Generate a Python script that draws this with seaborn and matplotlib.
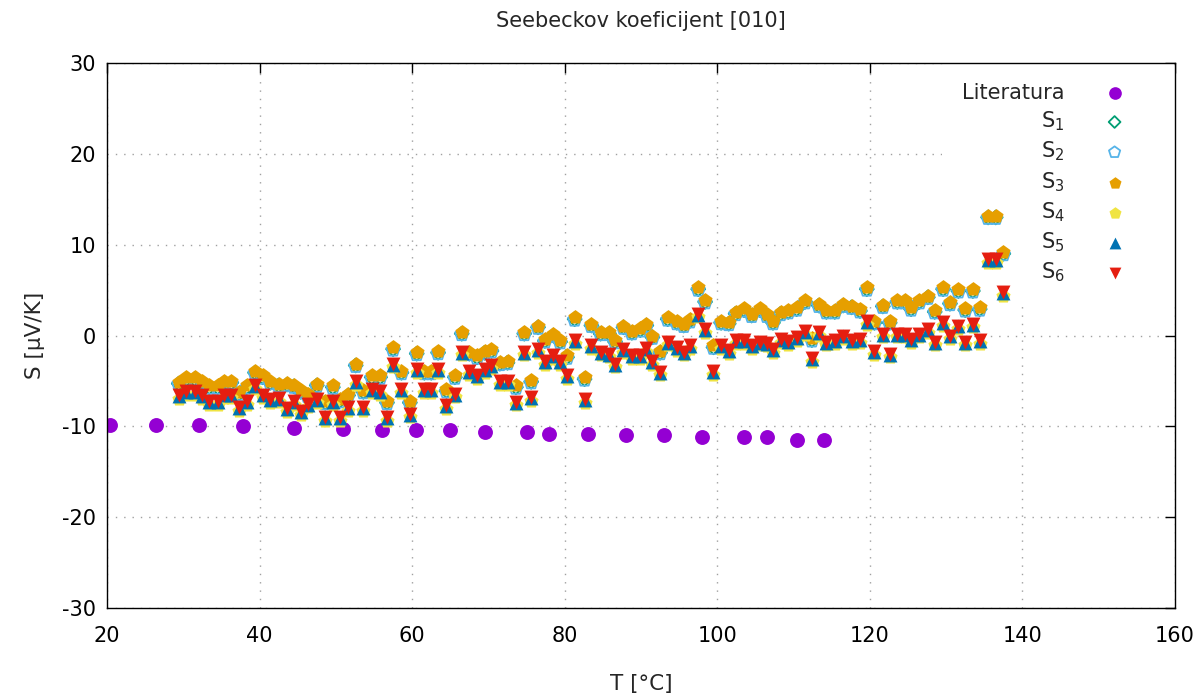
import matplotlib
matplotlib.use("Agg")
import matplotlib.pyplot as plt
import seaborn as sns

# ---------------- data ----------------
T_lit = [20.4, 26.4, 32.0, 37.8, 44.5, 51.0, 56.0, 60.5, 65.0, 69.5,
         75.0, 78.0, 83.0, 88.0, 93.0, 98.0, 103.5, 106.5, 110.5, 114.0]
S_lit = [-9.8, -9.8, -9.8, -10.0, -10.2, -10.3, -10.4, -10.4, -10.4, -10.6,
         -10.6, -10.8, -10.8, -11.0, -11.0, -11.2, -11.2, -11.2, -11.5, -11.5]

T = [29.4, 30.4, 31.5, 32.5, 33.4, 34.5, 35.4, 36.3, 37.3, 38.3,
     39.4, 40.4, 41.4, 42.5, 43.6, 44.5, 45.4, 46.3, 47.5, 48.6,
     49.6, 50.5, 51.6, 52.6, 53.6, 54.7, 55.8, 56.7, 57.5, 58.6,
     59.7, 60.6, 61.6, 62.5, 63.4, 64.5, 65.6, 66.5, 67.5, 68.5,
     69.5, 70.4, 71.5, 72.5, 73.6, 74.7, 75.6, 76.5, 77.4, 78.5,
     79.4, 80.3, 81.3, 82.6, 83.5, 84.7, 85.8, 86.6, 87.7, 88.8,
     89.9, 90.7, 91.5, 92.5, 93.5, 94.7, 95.6, 96.4, 97.5, 98.4,
     99.5, 100.5, 101.5, 102.4, 103.5, 104.5, 105.6, 106.5, 107.3, 108.3,
     109.3, 110.4, 111.5, 112.4, 113.3, 114.3, 115.4, 116.5, 117.6, 118.7,
     119.6, 120.6, 121.7, 122.6, 123.6, 124.6, 125.4, 126.5, 127.6, 128.5,
     129.6, 130.5, 131.6, 132.5, 133.5, 134.4, 135.5, 136.5, 137.5]

S1 = [-5.3, -4.8, -4.8, -5.2, -5.7, -5.7, -5.2, -5.2, -6.4, -5.7,
      -4.1, -4.6, -5.2, -5.5, -5.4, -5.6, -6.2, -6.6, -5.5, -7.4,
      -5.7, -7.2, -6.6, -3.3, -6.2, -4.6, -4.6, -7.4, -1.5, -4.1,
      -7.4, -2.0, -4.1, -4.1, -1.9, -6.1, -4.6, 0.2, -2.0, -2.4,
      -1.9, -1.7, -3.1, -3.0, -5.7, 0.2, -5.1, 0.9, -0.6, 0.0,
      -0.7, -2.4, 1.8, -4.8, 1.1, 0.2, 0.2, -0.7, 0.9, 0.3,
      0.6, 1.1, -0.2, -1.9, 1.8, 1.4, 1.1, 1.6, 5.1, 3.7,
      -1.3, 1.4, 1.3, 2.4, 2.8, 2.2, 2.8, 2.2, 1.4, 2.4,
      2.6, 2.9, 3.7, -0.5, 3.3, 2.6, 2.6, 3.3, 3.1, 2.7,
      5.1, 1.4, 3.2, 1.4, 3.7, 3.7, 2.9, 3.7, 4.2, 2.6,
      5.1, 3.5, 4.9, 2.8, 4.9, 2.9, 13.0, 13.0, 9.0]

S2 = [-5.4, -4.9, -4.9, -5.3, -5.8, -5.8, -5.3, -5.3, -6.5, -5.8,
      -4.2, -4.7, -5.3, -5.6, -5.5, -5.7, -6.3, -6.7, -5.6, -7.5,
      -5.8, -7.3, -6.7, -3.4, -6.3, -4.7, -4.7, -7.5, -1.6, -4.2,
      -7.5, -2.1, -4.2, -4.2, -2.0, -6.2, -4.7, 0.1, -2.1, -2.5,
      -2.0, -1.8, -3.2, -3.1, -5.8, 0.1, -5.2, 0.8, -0.7, -0.1,
      -0.8, -2.5, 1.7, -4.9, 1.0, 0.1, 0.1, -0.8, 0.8, 0.2,
      0.5, 1.0, -0.3, -2.0, 1.7, 1.3, 1.0, 1.5, 5.0, 3.6,
      -1.4, 1.3, 1.2, 2.3, 2.7, 2.1, 2.7, 2.1, 1.3, 2.3,
      2.5, 2.8, 3.6, -0.6, 3.2, 2.5, 2.5, 3.2, 3.0, 2.6,
      5.0, 1.3, 3.1, 1.3, 3.6, 3.6, 2.8, 3.6, 4.1, 2.5,
      5.0, 3.4, 4.8, 2.7, 4.8, 2.8, 12.9, 12.9, 8.9]

S3 = [-5.1, -4.6, -4.6, -5.0, -5.5, -5.5, -5.0, -5.0, -6.2, -5.5,
      -3.9, -4.4, -5.0, -5.3, -5.2, -5.4, -6.0, -6.4, -5.3, -7.2,
      -5.5, -7.0, -6.4, -3.1, -6.0, -4.4, -4.4, -7.2, -1.3, -3.9,
      -7.2, -1.8, -3.9, -3.9, -1.7, -5.9, -4.4, 0.4, -1.8, -2.2,
      -1.7, -1.5, -2.9, -2.8, -5.5, 0.4, -4.9, 1.1, -0.4, 0.2,
      -0.5, -2.2, 2.0, -4.6, 1.3, 0.4, 0.4, -0.5, 1.1, 0.5,
      0.8, 1.3, 0.0, -1.7, 2.0, 1.6, 1.3, 1.8, 5.3, 3.9,
      -1.1, 1.6, 1.5, 2.6, 3.0, 2.4, 3.0, 2.4, 1.6, 2.6,
      2.8, 3.1, 3.9, -0.3, 3.5, 2.8, 2.8, 3.5, 3.3, 2.9,
      5.3, 1.6, 3.4, 1.6, 3.9, 3.9, 3.1, 3.9, 4.4, 2.8,
      5.3, 3.7, 5.1, 3.0, 5.1, 3.1, 13.2, 13.2, 9.2]

S4 = [-7.0, -6.5, -6.5, -7.0, -7.6, -7.6, -6.9, -6.9, -8.3, -7.6,
      -5.9, -6.9, -7.4, -7.3, -8.4, -7.6, -8.7, -7.9, -7.4, -9.4,
      -7.6, -9.4, -8.3, -5.4, -8.3, -6.3, -6.5, -9.4, -3.5, -6.3,
      -9.0, -4.1, -6.3, -6.3, -4.1, -8.1, -6.8, -2.2, -4.3, -4.8,
      -4.1, -3.7, -5.4, -5.4, -7.7, -2.2, -7.2, -1.9, -3.2, -2.6,
      -3.2, -4.8, -0.9, -7.4, -1.5, -2.2, -2.4, -3.5, -1.9, -2.6,
      -2.6, -1.8, -3.2, -4.4, -1.1, -1.7, -2.2, -1.5, 2.0, 0.3,
      -4.3, -1.5, -2.0, -0.9, -0.9, -1.5, -1.1, -1.2, -1.9, -0.8,
      -1.0, -0.6, 0.1, -2.9, 0.0, -1.1, -0.9, -0.4, -0.9, -0.8,
      1.2, -2.1, -0.2, -2.4, -0.2, -0.2, -0.8, -0.2, 0.3, -1.1,
      1.1, -0.4, 0.7, -1.1, 0.9, -0.9, 8.0, 8.0, 4.4]

S5 = [-6.7, -6.2, -6.2, -6.7, -7.3, -7.3, -6.6, -6.6, -8.0, -7.3,
      -5.6, -6.6, -7.1, -7.0, -8.1, -7.3, -8.4, -7.6, -7.1, -9.1,
      -7.3, -9.1, -8.0, -5.1, -8.0, -6.0, -6.2, -9.1, -3.2, -6.0,
      -8.7, -3.8, -6.0, -6.0, -3.8, -7.8, -6.5, -1.9, -4.0, -4.5,
      -3.8, -3.4, -5.1, -5.1, -7.4, -1.9, -6.9, -1.6, -2.9, -2.3,
      -2.9, -4.5, -0.6, -7.1, -1.2, -1.9, -2.1, -3.2, -1.6, -2.3,
      -2.3, -1.5, -2.9, -4.1, -0.8, -1.4, -1.9, -1.2, 2.3, 0.6,
      -4.0, -1.2, -1.7, -0.6, -0.6, -1.2, -0.8, -0.9, -1.6, -0.5,
      -0.7, -0.3, 0.4, -2.6, 0.3, -0.8, -0.6, -0.1, -0.6, -0.5,
      1.5, -1.8, 0.1, -2.1, 0.1, 0.1, -0.5, 0.1, 0.6, -0.8,
      1.4, -0.1, 1.0, -0.8, 1.2, -0.6, 8.3, 8.3, 4.7]

S6 = [-6.6, -6.1, -6.1, -6.6, -7.2, -7.2, -6.5, -6.5, -7.9, -7.2,
      -5.5, -6.5, -7.0, -6.9, -8.0, -7.2, -8.3, -7.5, -7.0, -9.0,
      -7.2, -9.0, -7.9, -5.0, -7.9, -5.9, -6.1, -9.0, -3.1, -5.9,
      -8.6, -3.7, -5.9, -5.9, -3.7, -7.7, -6.4, -1.8, -3.9, -4.4,
      -3.7, -3.3, -5.0, -5.0, -7.3, -1.8, -6.8, -1.5, -2.8, -2.2,
      -2.8, -4.4, -0.5, -7.0, -1.1, -1.8, -2.0, -3.1, -1.5, -2.2,
      -2.2, -1.4, -2.8, -4.0, -0.7, -1.3, -1.8, -1.1, 2.4, 0.7,
      -3.9, -1.1, -1.6, -0.5, -0.5, -1.1, -0.7, -0.8, -1.5, -0.4,
      -0.6, -0.2, 0.5, -2.5, 0.4, -0.7, -0.5, 0.0, -0.5, -0.4,
      1.6, -1.7, 0.2, -2.0, 0.2, 0.2, -0.4, 0.2, 0.7, -0.7,
      1.5, 0.0, 1.1, -0.7, 1.3, -0.5, 8.4, 8.4, 4.8]

labels = ["Literatura", "S$_1$", "S$_2$", "S$_3$", "S$_4$", "S$_5$", "S$_6$"]
colors = ["#9400d3", "#009e73", "#56b4e9", "#e69f00", "#f0e442", "#0072b2", "#e51e10"]
x_ticks = [20, 40, 60, 80, 100, 120, 140, 160]
y_ticks = [-30, -20, -10, 0, 10, 20, 30]

# ---------------- style ----------------
sns.set_theme(style="white")
plt.rcParams['font.family'] = ['DejaVu Sans']
plt.rcParams['mathtext.default'] = 'regular'
plt.rcParams['axes.unicode_minus'] = False

W, H = 1204, 699
fig = plt.figure(figsize=(W / 100, H / 100), dpi=100)
L, R, TOP, BOT = 107, 1175, 63, 608
ax = fig.add_axes([L / W, 1 - BOT / H, (R - L) / W, (BOT - TOP) / H])

series = [
    (T_lit, S_lit, "o", True, 115),
    (T, S1, "D", False, 50),
    (T, S2, "p", False, 100),
    (T, S3, "p", True, 115),
    (T, S4, "p", True, 115),
    (T, S5, "^", True, 100),
    (T, S6, "v", True, 100),
]
for (xs, ys, mk, filled, size), lab, col in zip(series, labels, colors):
    if filled:
        sns.scatterplot(x=xs, y=ys, marker=mk, s=size, color=col,
                        linewidth=0, label=lab, ax=ax, zorder=2)
    else:
        sns.scatterplot(x=xs, y=ys, marker=mk, s=size, facecolor="none",
                        edgecolor=col, linewidth=1.3, label=lab, ax=ax, zorder=2)

ax.set_xlim(20, 160)
ax.set_ylim(-30, 30)
ax.set_xticks(x_ticks)
ax.set_yticks(y_ticks)
ax.grid(True, color="#a0a0a0", linestyle=(0, (1, 5)), linewidth=1.0)
ax.set_axisbelow(True)
for sp in ax.spines.values():
    sp.set_color("black")
    sp.set_linewidth(1.0)
ax.tick_params(direction="in", length=7, width=1, top=True, right=True,
               labelsize=15, colors="black")
ax.tick_params(axis="x", pad=13)
ax.tick_params(axis="y", pad=8)
ax.set_xlabel("T [°C]", fontsize=15.5, labelpad=20)
ax.set_ylabel("S [μV/K]", fontsize=15.5, labelpad=12)
ax.set_title("Seebeckov koeficijent [010]", fontsize=15, pad=26)

handles, labs = ax.get_legend_handles_labels()
leg = ax.legend(handles, labs, loc="upper right", bbox_to_anchor=(1.0, 1.0),
                markerfirst=False, frameon=True, facecolor="white",
                edgecolor="none", framealpha=1.0, fontsize=15,
                handletextpad=0.45, labelspacing=0.32, borderaxespad=0,
                borderpad=0.95, handlelength=3.9, markerscale=0.85)
leg.set_zorder(1.0)
for t in leg.get_texts():
    t.set_ha("right")

fig.savefig("out.png", dpi=100, facecolor="white")
